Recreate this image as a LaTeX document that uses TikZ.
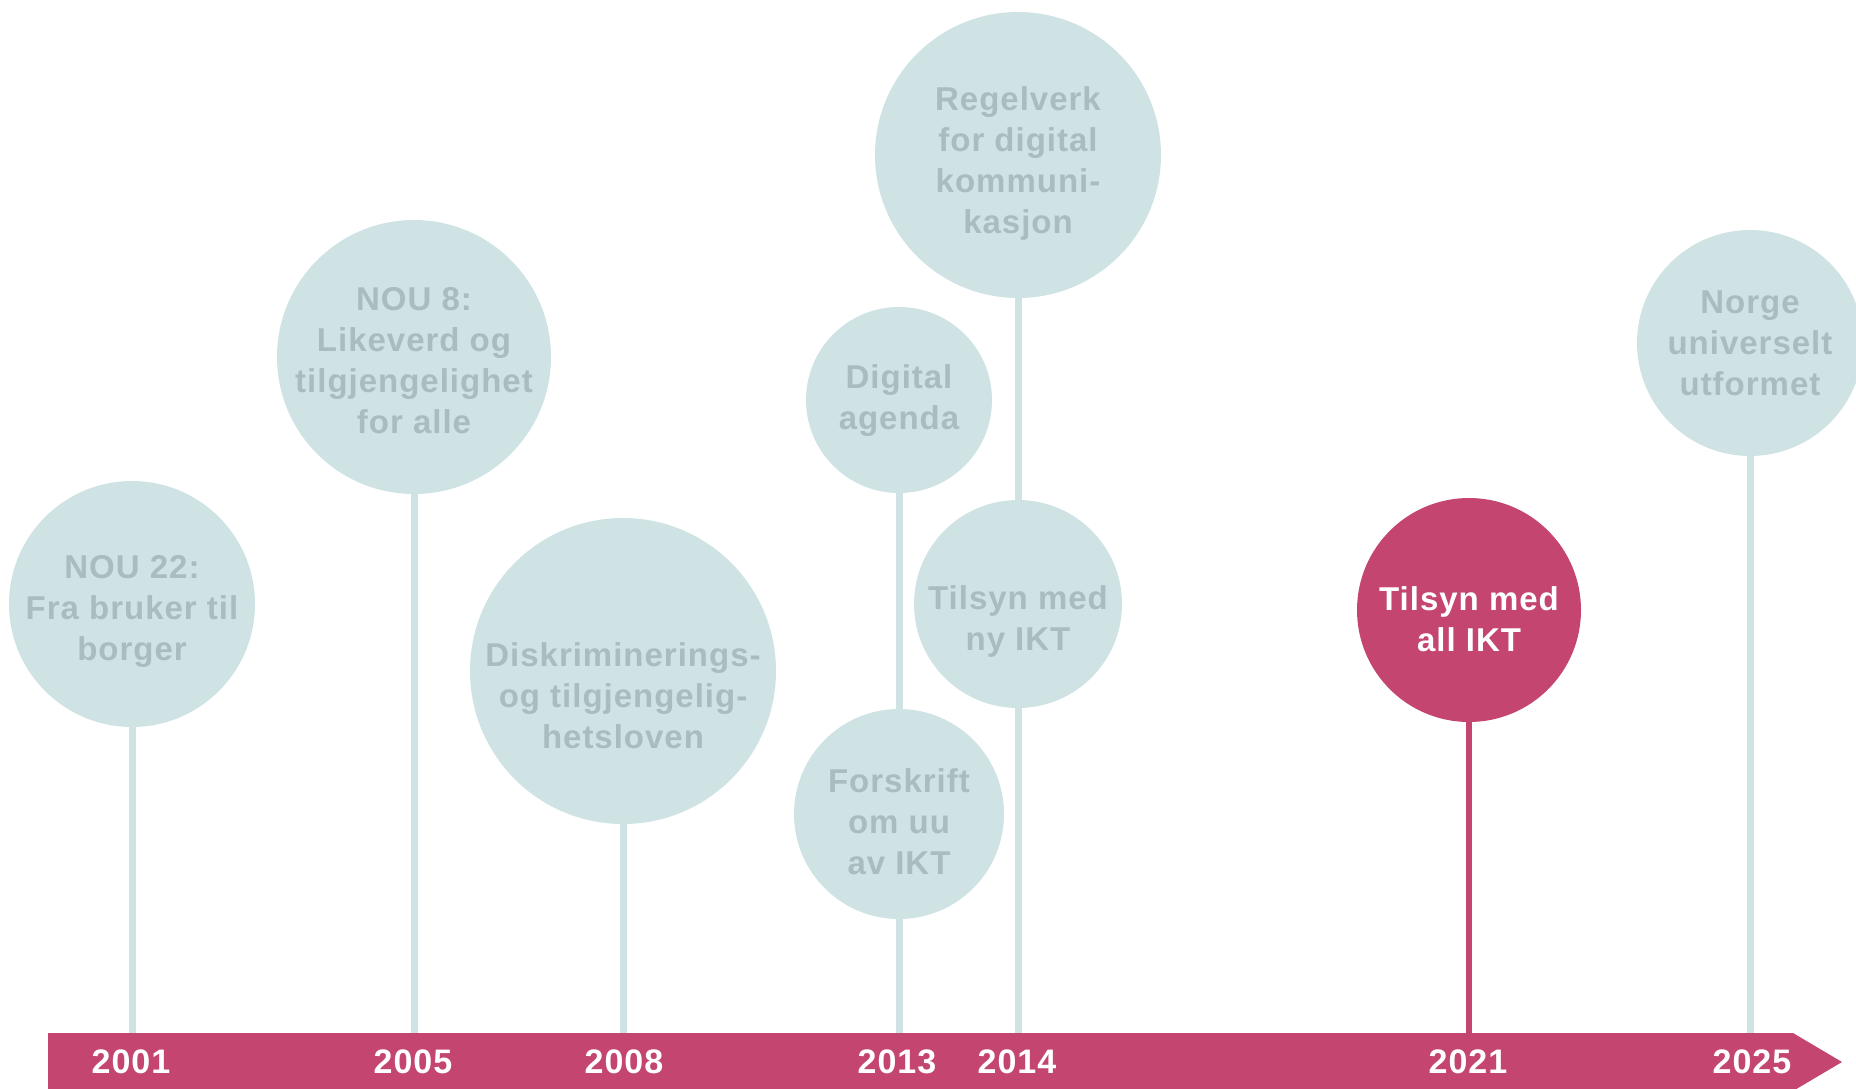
\documentclass[tikz,border=0pt]{standalone}
\usepackage{fontspec}
\setmainfont{Liberation Sans}[LetterSpace=3]
\definecolor{bubblefill}{RGB}{208,227,228}
\definecolor{bubbleink}{RGB}{170,189,190}
\definecolor{accent}{RGB}{196,70,112}
\begin{document}
\begin{tikzpicture}[x=1pt,y=-1pt,
    bubble/.style ={circle, fill=bubblefill, inner sep=0pt},
    hot/.style ={circle, fill=accent, inner sep=0pt},
    caption/.style ={align=center, text=bubbleink, font=\fontsize{33}{41}\selectfont\bfseries},
    year/.style ={text=white, font=\fontsize{34}{40}\selectfont\bfseries},
    stem/.style ={line width=7pt, bubblefill},
    hotstem/.style ={line width=6.5pt, accent}]
   \useasboundingbox (0,0) rectangle (1856,1088);

   % timeline bar
   \fill[accent] (48,1033) -- (1793,1033) -- (1842,1062) -- (1793,1091) -- (48,1091) -- cycle;
   \coordinate (barnorth) at (0,1033);

   \node[bubble,minimum size=246pt] (nou22)     at (132,604)  {};
   \node[bubble,minimum size=274pt] (nou8)      at (414,357)  {};
   \node[bubble,minimum size=306pt] (diskr)     at (623,671)  {};
   \node[bubble,minimum size=186pt] (digital)   at (899,400)  {};
   \node[bubble,minimum size=210pt] (forskrift) at (899,814)  {};
   \node[bubble,minimum size=286pt] (regelverk) at (1018,155) {};
   \node[bubble,minimum size=208pt] (tilsynny)  at (1018,604) {};
   \node[hot,minimum size=224pt]    (tilsynall) at (1469,610) {};
   \node[bubble,minimum size=226pt] (norge)     at (1750,343) {};

   \node[caption] (nou22txt)     at ([yshift=-7pt]nou22)     {NOU 22:\\Fra bruker til\\borger};
   \node[caption] (nou8txt)      at ([yshift=-4pt]nou8)      {NOU 8:\\Likeverd og\\tilgjengelighet\\for alle};
   \node[caption] (diskrtxt)     at ([yshift=-25pt]diskr)    {Diskriminerings-\\og tilgjengelig-\\hetsloven};
   \node[caption] (digitaltxt)   at ([yshift=-1pt]digital)   {Digital\\agenda};
   \node[caption] (forskrifttxt) at ([yshift=-8pt]forskrift) {Forskrift\\om uu\\av IKT};
   \node[caption] (regelverktxt) at ([yshift=-8pt]regelverk) {Regelverk\\for digital\\kommuni-\\kasjon};
   \node[caption] (tilsynnytxt)  at ([yshift=-17pt]tilsynny) {Tilsyn med\\ny IKT};
   \node[caption,text=white] (tilsynalltxt) at ([yshift=-9pt]tilsynall) {Tilsyn med\\all IKT};
   \node[caption] (norgetxt)     at ([yshift=0pt]norge)      {Norge\\universelt\\utformet};

   \draw[stem] (nou22) to (nou22 |- barnorth);
   \draw[stem] (nou8) to (nou8 |- barnorth);
   \draw[stem] (diskr) to (diskr |- barnorth);
   \draw[stem] (digital) to (forskrift);
   \draw[stem] (forskrift) to (forskrift |- barnorth);
   \draw[stem] (regelverk) to (tilsynny);
   \draw[stem] (tilsynny) to (tilsynny |- barnorth);
   \draw[hotstem] (tilsynall) to (tilsynall |- barnorth);
   \draw[stem] (norge) to (norge |- barnorth);

   \node[year] (y2001) at (131,1062)  {2001};
   \node[year] (y2005) at (413,1062)  {2005};
   \node[year] (y2008) at (624,1062)  {2008};
   \node[year] (y2013) at (897,1062)  {2013};
   \node[year] (y2014) at (1017,1062) {2014};
   \node[year] (y2021) at (1468,1062) {2021};
   \node[year] (y2025) at (1752,1062) {2025};
 \end{tikzpicture}
\end{document}
